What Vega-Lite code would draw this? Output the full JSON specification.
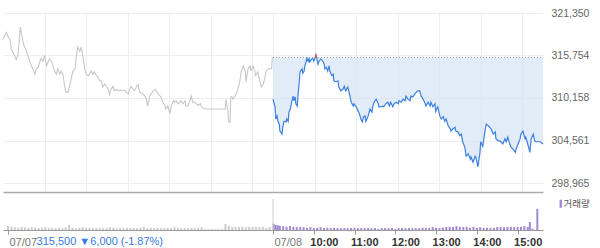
{
 "$schema": "https://vega.github.io/schema/vega-lite/v6.json",
 "padding": {"left": 0, "top": 8, "right": 0, "bottom": 0},
 "background": "white",
 "config": {"view": {"stroke": null}, "font": "Liberation Sans"},
 "resolve": {"scale": {"color": "independent"}, "legend": {"color": "independent"}},
 "datasets": {
  "price": [
   {"d":1,"t":0,"p":317900},{"d":1,"t":5,"p":318800},{"d":1,"t":7,"p":318300},{"d":1,"t":10,"p":317900},{"d":1,"t":12,"p":316600},{"d":1,"t":14,"p":316200},{"d":1,"t":17,"p":315700},{"d":1,"t":19,"p":315200},{"d":1,"t":22,"p":316000},{"d":1,"t":25,"p":319500},{"d":1,"t":29,"p":317500},{"d":1,"t":31,"p":316900},{"d":1,"t":34,"p":316300},{"d":1,"t":39,"p":314900},{"d":1,"t":41,"p":314400},{"d":1,"t":43,"p":314000},{"d":1,"t":46,"p":313300},{"d":1,"t":48,"p":314000},{"d":1,"t":51,"p":314200},{"d":1,"t":53,"p":314900},{"d":1,"t":55,"p":315400},{"d":1,"t":58,"p":315000},{"d":1,"t":60,"p":315800},{"d":1,"t":63,"p":314400},{"d":1,"t":65,"p":314900},{"d":1,"t":67,"p":315300},{"d":1,"t":70,"p":315000},{"d":1,"t":72,"p":314400},{"d":1,"t":75,"p":313600},{"d":1,"t":77,"p":313300},{"d":1,"t":79,"p":314000},{"d":1,"t":82,"p":313300},{"d":1,"t":84,"p":313700},{"d":1,"t":87,"p":313100},{"d":1,"t":89,"p":311700},{"d":1,"t":91,"p":310900},{"d":1,"t":94,"p":310900},{"d":1,"t":96,"p":311700},{"d":1,"t":99,"p":312900},{"d":1,"t":101,"p":313700},{"d":1,"t":104,"p":314000},{"d":1,"t":106,"p":315700},{"d":1,"t":108,"p":316900},{"d":1,"t":111,"p":316300},{"d":1,"t":113,"p":316900},{"d":1,"t":116,"p":315300},{"d":1,"t":118,"p":314000},{"d":1,"t":120,"p":313300},{"d":1,"t":123,"p":313100},{"d":1,"t":125,"p":313300},{"d":1,"t":128,"p":313700},{"d":1,"t":130,"p":313300},{"d":1,"t":132,"p":313600},{"d":1,"t":135,"p":313100},{"d":1,"t":137,"p":312900},{"d":1,"t":140,"p":312400},{"d":1,"t":142,"p":312400},{"d":1,"t":144,"p":311600},{"d":1,"t":147,"p":312000},{"d":1,"t":149,"p":311700},{"d":1,"t":152,"p":311300},{"d":1,"t":154,"p":310600},{"d":1,"t":156,"p":311300},{"d":1,"t":159,"p":311700},{"d":1,"t":161,"p":311100},{"d":1,"t":164,"p":311300},{"d":1,"t":166,"p":311100},{"d":1,"t":169,"p":311200},{"d":1,"t":171,"p":311100},{"d":1,"t":173,"p":311200},{"d":1,"t":176,"p":311100},{"d":1,"t":178,"p":310900},{"d":1,"t":181,"p":310700},{"d":1,"t":183,"p":311300},{"d":1,"t":185,"p":311700},{"d":1,"t":188,"p":311300},{"d":1,"t":190,"p":311100},{"d":1,"t":193,"p":311700},{"d":1,"t":195,"p":311900},{"d":1,"t":197,"p":311100},{"d":1,"t":199,"p":310800},{"d":1,"t":202,"p":310700},{"d":1,"t":205,"p":310400},{"d":1,"t":207,"p":310000},{"d":1,"t":209,"p":309100},{"d":1,"t":212,"p":310400},{"d":1,"t":214,"p":310700},{"d":1,"t":217,"p":311100},{"d":1,"t":220,"p":311300},{"d":1,"t":221,"p":311100},{"d":1,"t":224,"p":310700},{"d":1,"t":227,"p":310400},{"d":1,"t":228,"p":310300},{"d":1,"t":231,"p":309600},{"d":1,"t":234,"p":309100},{"d":1,"t":235,"p":308700},{"d":1,"t":238,"p":309100},{"d":1,"t":241,"p":308100},{"d":1,"t":243,"p":309100},{"d":1,"t":246,"p":309800},{"d":1,"t":248,"p":309600},{"d":1,"t":250,"p":309800},{"d":1,"t":253,"p":309400},{"d":1,"t":256,"p":309600},{"d":1,"t":257,"p":309800},{"d":1,"t":260,"p":309400},{"d":1,"t":263,"p":309800},{"d":1,"t":264,"p":309100},{"d":1,"t":267,"p":309100},{"d":1,"t":270,"p":309800},{"d":1,"t":272,"p":310400},{"d":1,"t":274,"p":309600},{"d":1,"t":277,"p":309600},{"d":1,"t":279,"p":309400},{"d":1,"t":282,"p":309200},{"d":1,"t":285,"p":309400},{"d":1,"t":286,"p":309100},{"d":1,"t":289,"p":308800},{"d":1,"t":292,"p":308700},{"d":1,"t":321,"p":308700},{"d":1,"t":322,"p":310000},{"d":1,"t":325,"p":308400},{"d":1,"t":326,"p":307000},{"d":1,"t":328,"p":307000},{"d":1,"t":329,"p":310300},{"d":1,"t":331,"p":310300},{"d":1,"t":332,"p":310000},{"d":1,"t":335,"p":310400},{"d":1,"t":337,"p":310700},{"d":1,"t":339,"p":311300},{"d":1,"t":342,"p":312300},{"d":1,"t":344,"p":313600},{"d":1,"t":347,"p":314400},{"d":1,"t":350,"p":313600},{"d":1,"t":351,"p":312300},{"d":1,"t":354,"p":314000},{"d":1,"t":357,"p":314400},{"d":1,"t":358,"p":313700},{"d":1,"t":361,"p":314400},{"d":1,"t":364,"p":313600},{"d":1,"t":365,"p":313100},{"d":1,"t":368,"p":313600},{"d":1,"t":371,"p":312400},{"d":1,"t":373,"p":311600},{"d":1,"t":376,"p":312000},{"d":1,"t":378,"p":312700},{"d":1,"t":380,"p":313700},{"d":1,"t":383,"p":314000},{"d":1,"t":388,"p":314000},{"d":1,"t":389,"p":315500},{"d":1,"t":390,"p":315500},
   {"d":2,"t":390,"p":310000},{"d":2,"t":393,"p":309000},{"d":2,"t":394,"p":307400},{"d":2,"t":396,"p":307800},{"d":2,"t":397,"p":307100},{"d":2,"t":399,"p":306700},{"d":2,"t":400,"p":305800},{"d":2,"t":403,"p":305400},{"d":2,"t":404,"p":306300},{"d":2,"t":406,"p":307100},{"d":2,"t":409,"p":307000},{"d":2,"t":410,"p":307400},{"d":2,"t":412,"p":307100},{"d":2,"t":413,"p":308300},{"d":2,"t":415,"p":308700},{"d":2,"t":417,"p":309600},{"d":2,"t":419,"p":310400},{"d":2,"t":420,"p":309800},{"d":2,"t":422,"p":310300},{"d":2,"t":423,"p":309400},{"d":2,"t":425,"p":309100},{"d":2,"t":426,"p":310400},{"d":2,"t":428,"p":312300},{"d":2,"t":429,"p":313600},{"d":2,"t":432,"p":314000},{"d":2,"t":433,"p":313400},{"d":2,"t":435,"p":313700},{"d":2,"t":436,"p":314400},{"d":2,"t":438,"p":315000},{"d":2,"t":439,"p":315400},{"d":2,"t":441,"p":315000},{"d":2,"t":442,"p":315300},{"d":2,"t":443,"p":314900},{"d":2,"t":446,"p":315300},{"d":2,"t":448,"p":315300},{"d":2,"t":449,"p":315000},{"d":2,"t":451,"p":315500},{"d":2,"t":452,"p":315800},{"d":2,"t":453,"p":315500},{"d":2,"t":454,"p":315000},{"d":2,"t":455,"p":314600},{"d":2,"t":456,"p":314900},{"d":2,"t":459,"p":315300},{"d":2,"t":462,"p":315000},{"d":2,"t":464,"p":314600},{"d":2,"t":465,"p":314000},{"d":2,"t":467,"p":314200},{"d":2,"t":469,"p":313700},{"d":2,"t":471,"p":314400},{"d":2,"t":472,"p":313700},{"d":2,"t":475,"p":313100},{"d":2,"t":477,"p":313300},{"d":2,"t":478,"p":312400},{"d":2,"t":481,"p":312300},{"d":2,"t":484,"p":312400},{"d":2,"t":485,"p":311600},{"d":2,"t":488,"p":311100},{"d":2,"t":491,"p":311300},{"d":2,"t":493,"p":311700},{"d":2,"t":495,"p":311100},{"d":2,"t":498,"p":311600},{"d":2,"t":500,"p":310900},{"d":2,"t":503,"p":309600},{"d":2,"t":506,"p":309100},{"d":2,"t":507,"p":309400},{"d":2,"t":510,"p":309000},{"d":2,"t":513,"p":308400},{"d":2,"t":514,"p":308300},{"d":2,"t":517,"p":307400},{"d":2,"t":519,"p":307000},{"d":2,"t":521,"p":307700},{"d":2,"t":523,"p":307800},{"d":2,"t":524,"p":307100},{"d":2,"t":527,"p":307700},{"d":2,"t":529,"p":308300},{"d":2,"t":530,"p":308700},{"d":2,"t":533,"p":308300},{"d":2,"t":534,"p":309000},{"d":2,"t":536,"p":309600},{"d":2,"t":539,"p":310000},{"d":2,"t":542,"p":309400},{"d":2,"t":543,"p":309000},{"d":2,"t":546,"p":309000},{"d":2,"t":549,"p":309100},{"d":2,"t":550,"p":309000},{"d":2,"t":553,"p":309400},{"d":2,"t":556,"p":309600},{"d":2,"t":558,"p":309100},{"d":2,"t":560,"p":309600},{"d":2,"t":563,"p":309000},{"d":2,"t":565,"p":309400},{"d":2,"t":568,"p":309600},{"d":2,"t":571,"p":309400},{"d":2,"t":572,"p":309800},{"d":2,"t":575,"p":309600},{"d":2,"t":578,"p":310000},{"d":2,"t":581,"p":309800},{"d":2,"t":582,"p":310400},{"d":2,"t":585,"p":310000},{"d":2,"t":588,"p":309800},{"d":2,"t":589,"p":310400},{"d":2,"t":592,"p":310300},{"d":2,"t":595,"p":310700},{"d":2,"t":597,"p":310900},{"d":2,"t":599,"p":311100},{"d":2,"t":602,"p":311100},{"d":2,"t":604,"p":310400},{"d":2,"t":607,"p":310000},{"d":2,"t":610,"p":309400},{"d":2,"t":611,"p":309100},{"d":2,"t":614,"p":309600},{"d":2,"t":617,"p":309100},{"d":2,"t":618,"p":309600},{"d":2,"t":621,"p":309000},{"d":2,"t":624,"p":309400},{"d":2,"t":625,"p":308400},{"d":2,"t":628,"p":309000},{"d":2,"t":631,"p":307800},{"d":2,"t":633,"p":307400},{"d":2,"t":636,"p":307700},{"d":2,"t":638,"p":307100},{"d":2,"t":640,"p":307400},{"d":2,"t":643,"p":306500},{"d":2,"t":646,"p":306100},{"d":2,"t":647,"p":305800},{"d":2,"t":650,"p":306100},{"d":2,"t":653,"p":306300},{"d":2,"t":654,"p":305800},{"d":2,"t":657,"p":305700},{"d":2,"t":660,"p":305200},{"d":2,"t":662,"p":305400},{"d":2,"t":664,"p":304400},{"d":2,"t":667,"p":303700},{"d":2,"t":669,"p":302500},{"d":2,"t":672,"p":302800},{"d":2,"t":675,"p":302100},{"d":2,"t":676,"p":302400},{"d":2,"t":679,"p":301700},{"d":2,"t":682,"p":302500},{"d":2,"t":683,"p":302400},{"d":2,"t":686,"p":301100},{"d":2,"t":689,"p":303000},{"d":2,"t":690,"p":304400},{"d":2,"t":693,"p":303800},{"d":2,"t":696,"p":305700},{"d":2,"t":698,"p":306700},{"d":2,"t":701,"p":306500},{"d":2,"t":703,"p":306300},{"d":2,"t":705,"p":306100},{"d":2,"t":708,"p":305400},{"d":2,"t":711,"p":305700},{"d":2,"t":712,"p":304800},{"d":2,"t":715,"p":304500},{"d":2,"t":718,"p":304500},{"d":2,"t":719,"p":304400},{"d":2,"t":722,"p":304100},{"d":2,"t":725,"p":304800},{"d":2,"t":727,"p":304400},{"d":2,"t":729,"p":305000},{"d":2,"t":732,"p":304100},{"d":2,"t":734,"p":303700},{"d":2,"t":737,"p":303400},{"d":2,"t":740,"p":303000},{"d":2,"t":741,"p":303400},{"d":2,"t":744,"p":304100},{"d":2,"t":747,"p":304800},{"d":2,"t":748,"p":305400},{"d":2,"t":751,"p":305800},{"d":2,"t":754,"p":304800},{"d":2,"t":755,"p":305000},{"d":2,"t":758,"p":304100},{"d":2,"t":761,"p":303000},{"d":2,"t":763,"p":304800},{"d":2,"t":766,"p":305400},{"d":2,"t":768,"p":304500},{"d":2,"t":770,"p":304400},{"d":2,"t":776,"p":304400},{"d":2,"t":780,"p":304100}
  ],
  "vol": [
   {"t":0,"v":4100,"k":"전일"},{"t":5,"v":3200,"k":"전일"},{"t":10,"v":2900,"k":"전일"},{"t":15,"v":2200,"k":"전일"},{"t":20,"v":3100,"k":"전일"},{"t":25,"v":2400,"k":"전일"},{"t":30,"v":2100,"k":"전일"},{"t":35,"v":2800,"k":"전일"},{"t":40,"v":2300,"k":"전일"},{"t":45,"v":2000,"k":"전일"},{"t":50,"v":2200,"k":"전일"},{"t":55,"v":2900,"k":"전일"},{"t":60,"v":2100,"k":"전일"},{"t":65,"v":2300,"k":"전일"},{"t":70,"v":1900,"k":"전일"},{"t":75,"v":2200,"k":"전일"},{"t":80,"v":2000,"k":"전일"},{"t":85,"v":2800,"k":"전일"},{"t":90,"v":5200,"k":"전일"},{"t":95,"v":2200,"k":"전일"},{"t":100,"v":1900,"k":"전일"},{"t":105,"v":2100,"k":"전일"},{"t":110,"v":2900,"k":"전일"},{"t":115,"v":2200,"k":"전일"},{"t":120,"v":2000,"k":"전일"},{"t":125,"v":1800,"k":"전일"},{"t":130,"v":2100,"k":"전일"},{"t":135,"v":2300,"k":"전일"},{"t":140,"v":1900,"k":"전일"},{"t":145,"v":2000,"k":"전일"},{"t":150,"v":2800,"k":"전일"},{"t":155,"v":2000,"k":"전일"},{"t":160,"v":1800,"k":"전일"},{"t":165,"v":2100,"k":"전일"},{"t":170,"v":1900,"k":"전일"},{"t":175,"v":2200,"k":"전일"},{"t":180,"v":1800,"k":"전일"},{"t":185,"v":2000,"k":"전일"},{"t":190,"v":1900,"k":"전일"},{"t":195,"v":2100,"k":"전일"},{"t":200,"v":3000,"k":"전일"},{"t":205,"v":1800,"k":"전일"},{"t":210,"v":2000,"k":"전일"},{"t":215,"v":1900,"k":"전일"},{"t":220,"v":2200,"k":"전일"},{"t":225,"v":1800,"k":"전일"},{"t":230,"v":2000,"k":"전일"},{"t":235,"v":2100,"k":"전일"},{"t":240,"v":1900,"k":"전일"},{"t":245,"v":2900,"k":"전일"},{"t":250,"v":2000,"k":"전일"},{"t":255,"v":1800,"k":"전일"},{"t":260,"v":2100,"k":"전일"},{"t":265,"v":1900,"k":"전일"},{"t":270,"v":2000,"k":"전일"},{"t":275,"v":1800,"k":"전일"},{"t":280,"v":2100,"k":"전일"},{"t":285,"v":2700,"k":"전일"},{"t":290,"v":1000,"k":"전일"},{"t":295,"v":800,"k":"전일"},{"t":300,"v":900,"k":"전일"},{"t":305,"v":700,"k":"전일"},{"t":310,"v":800,"k":"전일"},{"t":315,"v":900,"k":"전일"},{"t":320,"v":6000,"k":"전일"},{"t":325,"v":4200,"k":"전일"},{"t":330,"v":3300,"k":"전일"},{"t":335,"v":3100,"k":"전일"},{"t":340,"v":2900,"k":"전일"},{"t":345,"v":3200,"k":"전일"},{"t":350,"v":2800,"k":"전일"},{"t":355,"v":3000,"k":"전일"},{"t":360,"v":2900,"k":"전일"},{"t":365,"v":3100,"k":"전일"},{"t":370,"v":2800,"k":"전일"},{"t":375,"v":3000,"k":"전일"},{"t":380,"v":2200,"k":"전일"},{"t":385,"v":2900,"k":"전일"},
   {"t":391,"v":6200,"k":"거래량"},{"t":394,"v":5100,"k":"거래량"},{"t":397,"v":4800,"k":"거래량"},{"t":400,"v":4200,"k":"거래량"},{"t":405,"v":3800,"k":"거래량"},{"t":410,"v":3200,"k":"거래량"},{"t":415,"v":3900,"k":"거래량"},{"t":420,"v":3100,"k":"거래량"},{"t":425,"v":2900,"k":"거래량"},{"t":430,"v":3200,"k":"거래량"},{"t":435,"v":2800,"k":"거래량"},{"t":440,"v":2200,"k":"거래량"},{"t":445,"v":2900,"k":"거래량"},{"t":450,"v":2100,"k":"거래량"},{"t":455,"v":2300,"k":"거래량"},{"t":460,"v":2800,"k":"거래량"},{"t":465,"v":2000,"k":"거래량"},{"t":470,"v":2200,"k":"거래량"},{"t":475,"v":1900,"k":"거래량"},{"t":480,"v":2100,"k":"거래량"},{"t":485,"v":2000,"k":"거래량"},{"t":490,"v":1800,"k":"거래량"},{"t":495,"v":2100,"k":"거래량"},{"t":500,"v":1900,"k":"거래량"},{"t":505,"v":2000,"k":"거래량"},{"t":510,"v":2200,"k":"거래량"},{"t":515,"v":1800,"k":"거래량"},{"t":520,"v":2000,"k":"거래량"},{"t":525,"v":1900,"k":"거래량"},{"t":530,"v":2100,"k":"거래량"},{"t":535,"v":1800,"k":"거래량"},{"t":540,"v":2000,"k":"거래량"},{"t":545,"v":1200,"k":"거래량"},{"t":550,"v":1900,"k":"거래량"},{"t":555,"v":2000,"k":"거래량"},{"t":560,"v":1800,"k":"거래량"},{"t":565,"v":2100,"k":"거래량"},{"t":570,"v":1100,"k":"거래량"},{"t":575,"v":1900,"k":"거래량"},{"t":580,"v":2000,"k":"거래량"},{"t":585,"v":1800,"k":"거래량"},{"t":590,"v":2100,"k":"거래량"},{"t":595,"v":1900,"k":"거래량"},{"t":600,"v":2000,"k":"거래량"},{"t":605,"v":1800,"k":"거래량"},{"t":610,"v":2200,"k":"거래량"},{"t":615,"v":1900,"k":"거래량"},{"t":620,"v":2100,"k":"거래량"},{"t":625,"v":2900,"k":"거래량"},{"t":630,"v":2200,"k":"거래량"},{"t":635,"v":2000,"k":"거래량"},{"t":640,"v":2300,"k":"거래량"},{"t":645,"v":3000,"k":"거래량"},{"t":650,"v":3200,"k":"거래량"},{"t":655,"v":2900,"k":"거래량"},{"t":660,"v":3800,"k":"거래량"},{"t":665,"v":3100,"k":"거래량"},{"t":670,"v":2900,"k":"거래량"},{"t":675,"v":3200,"k":"거래량"},{"t":680,"v":2200,"k":"거래량"},{"t":685,"v":3000,"k":"거래량"},{"t":690,"v":2100,"k":"거래량"},{"t":695,"v":2800,"k":"거래량"},{"t":700,"v":2000,"k":"거래량"},{"t":705,"v":2200,"k":"거래량"},{"t":710,"v":1900,"k":"거래량"},{"t":715,"v":2100,"k":"거래량"},{"t":720,"v":2900,"k":"거래량"},{"t":725,"v":3100,"k":"거래량"},{"t":730,"v":2800,"k":"거래량"},{"t":735,"v":3000,"k":"거래량"},{"t":740,"v":3200,"k":"거래량"},{"t":745,"v":2900,"k":"거래량"},{"t":750,"v":3100,"k":"거래량"},{"t":755,"v":3000,"k":"거래량"},{"t":760,"v":3800,"k":"거래량"},{"t":765,"v":3100,"k":"거래량"},{"t":768,"v":8000,"k":"거래량"},{"t":772,"v":1500,"k":"거래량"},{"t":779,"v":21000,"k":"거래량"}
  ]
 },
 "spacing": 6,
 "vconcat": [
  {
   "width": 540,
   "height": 179,
   "data": {"name": "price"},
   "layer": [
    {
     "transform": [{"filter": "datum.d == 2"}],
     "mark": {"type": "area", "color": "#d6e4f7", "opacity": 0.7},
     "encoding": {
      "x": {"field": "t", "type": "quantitative", "scale": {"domain": [0, 780], "nice": false, "zero": false},
            "axis": {"values": [60,120,180,240,300,360,390,450,510,570,630,690,750], "grid": true, "gridColor": "#eeeeee", "labels": false, "ticks": false, "domain": true, "domainColor": "#aaaaaa", "domainWidth": 1.5, "title": null}},
      "y": {"field": "p", "type": "quantitative", "scale": {"domain": [297780, 321350], "nice": false, "zero": false},
            "axis": {"orient": "right", "values": [298965,304561,310158,315754,321350], "format": ",d", "grid": true, "gridColor": "#eeeeee", "domain": false, "ticks": false, "labelPadding": 8, "labelFontSize": 10.5, "labelColor": "#666666", "labelOverlap": false, "title": null}},
      "y2": {"datum": 315500}
     }
    },
    {
     "data": {"values": [{"start": 390, "end": 780, "base": 315500}]},
     "mark": {"type": "rule", "color": "#999999", "strokeDash": [1, 2], "strokeWidth": 1},
     "encoding": {
      "x": {"field": "start", "type": "quantitative"},
      "x2": {"field": "end"},
      "y": {"field": "base", "type": "quantitative"}
     }
    },
    {
     "transform": [{"filter": "datum.d == 1"}],
     "mark": {"type": "line", "color": "#c8c8c8", "strokeWidth": 1.1},
     "encoding": {
      "x": {"field": "t", "type": "quantitative"},
      "y": {"field": "p", "type": "quantitative"}
     }
    },
    {
     "transform": [{"filter": "datum.d == 2"}],
     "mark": {"type": "line", "color": "#3d80e0", "strokeWidth": 1.2},
     "encoding": {
      "x": {"field": "t", "type": "quantitative"},
      "y": {"field": "p", "type": "quantitative"}
     }
    },
    {
     "transform": [{"filter": "datum.d == 2 && datum.p >= 315500 && datum.t >= 450 && datum.t <= 455"}],
     "mark": {"type": "line", "color": "#e8473f", "strokeWidth": 1.2},
     "encoding": {
      "x": {"field": "t", "type": "quantitative"},
      "y": {"field": "p", "type": "quantitative"}
     }
    }
   ]
  },
  {
   "width": 540,
   "height": 31,
   "layer": [
    {
     "data": {"name": "vol"},
     "mark": {"type": "bar", "size": 2},
     "encoding": {
      "x": {"field": "t", "type": "quantitative", "scale": {"domain": [0, 780], "nice": false, "zero": false},
            "axis": {"values": [0,390,450,510,570,630,690,750],
                     "labelExpr": "datum.value == 0 ? '07/07' : datum.value == 390 ? '07/08' : datum.value == 450 ? '10:00' : datum.value == 510 ? '11:00' : datum.value == 570 ? '12:00' : datum.value == 630 ? '13:00' : datum.value == 690 ? '14:00' : '15:00'",
                     "grid": false, "domainColor": "#999999", "tickColor": "#999999", "tickSize": 4, "labelPadding": 2,
                     "labelAlign": "left", "labelFontSize": 11, "labelFlush": false, "labelOverlap": false, "labelBound": false,
                     "labelOffset": {"condition": {"test": "datum.value == 0 || datum.value == 390", "value": 1}, "value": -4},
                     "labelColor": {"condition": {"test": "datum.value == 0 || datum.value == 390", "value": "#777777"}, "value": "#333333"},
                     "labelFontWeight": {"condition": {"test": "datum.value == 0 || datum.value == 390", "value": "normal"}, "value": "bold"},
                     "title": null}},
      "y": {"field": "v", "type": "quantitative", "scale": {"domain": [0, 31000], "nice": false}, "axis": null},
      "color": {"field": "k", "type": "nominal", "scale": {"domain": ["거래량", "전일"], "range": ["#9f8ad3", "#cccccc"]},
                "legend": {"values": ["거래량"], "title": null, "orient": "right", "offset": 13, "symbolType": "M-0.3,-1H0.3V1H-0.3Z", "symbolSize": 64, "symbolStrokeWidth": 0, "labelOffset": -2, "labelFont": "Noto Sans CJK KR", "labelFontSize": 9.5, "labelColor": "#555555", "padding": 0}}
     }
    },
    {
     "data": {"values": [{"t": 390}]},
     "mark": {"type": "rule", "color": "#cccccc"},
     "encoding": {"x": {"field": "t", "type": "quantitative"}}
    },
    {
     "data": {"values": [{"label": "315,500 ▼6,000 (-1.87%)"}]},
     "mark": {"type": "text", "align": "left", "baseline": "middle", "fontSize": 11, "color": "#3a7bdc"},
     "encoding": {
      "x": {"datum": 42, "type": "quantitative"},
      "y": {"datum": -12000, "type": "quantitative"},
      "text": {"field": "label"}
     }
    }
   ]
  }
 ]
}
